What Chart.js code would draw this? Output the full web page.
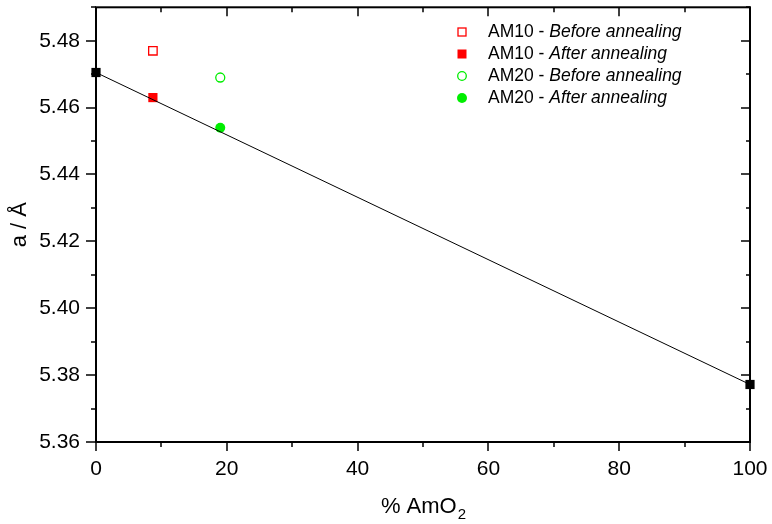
<!DOCTYPE html>
<html>
<head>
<meta charset="utf-8">
<script src="https://cdn.jsdelivr.net/npm/chart.js@4/dist/chart.umd.min.js"></script>
<style>
html,body{margin:0;padding:0;background:#fff;}
canvas{display:block;}
</style>
</head>
<body>
<canvas id="c" width="772" height="524"></canvas>
<script>
// ---- data ----
const refX = [0, 100];
const refY = [5.4705, 5.3772];
const am10Before = [{x: 8.7, y: 5.477}];
const am10After = [{x: 8.7, y: 5.463}];
const am20Before = [{x: 19.0, y: 5.469}];
const am20After = [{x: 19.0, y: 5.454}];
const legendSamples = ['AM10', 'AM10', 'AM20', 'AM20'];
const legendStates = ['Before annealing', 'After annealing', 'Before annealing', 'After annealing'];
const xTitle = '% AmO';
const xTitleSub = '2';
const yTitle = 'a / \u00C5';

const FONT = '"Liberation Sans", Arial, Helvetica, sans-serif';
const RED = '#ff0000';
const GREEN = '#00ee00';

const refPoints = refX.map((x, i) => ({x: x, y: refY[i]}));

const frame = {
  id: 'frame',
  afterDraw(chart) {
    const ctx = chart.ctx;
    const a = chart.chartArea;
    const xs = chart.scales.x, ys = chart.scales.y;
    ctx.save();
    ctx.strokeStyle = '#000';
    ctx.lineWidth = 2;
    ctx.strokeRect(a.left, a.top, a.right - a.left, a.bottom - a.top);
    ctx.lineWidth = 1.5;
    ctx.beginPath();
    xs.ticks.forEach(t => {
      const px = Math.round(xs.getPixelForValue(t.value)) ;
      const major = Math.round(t.value) % 20 === 0;
      const L = major ? 9 : 5;
      ctx.moveTo(px, a.bottom); ctx.lineTo(px, a.bottom + L);
      ctx.moveTo(px, a.top); ctx.lineTo(px, a.top + L);
    });
    ys.ticks.forEach(t => {
      const py = Math.round(ys.getPixelForValue(t.value));
      const major = Math.round(t.value * 100) % 2 === 0;
      const L = major ? 10 : 5;
      ctx.moveTo(a.left - L, py); ctx.lineTo(a.left, py);
      ctx.moveTo(a.right - L + 1, py); ctx.lineTo(a.right, py);
    });
    ctx.stroke();

    // axis titles
    ctx.fillStyle = '#000';
    ctx.font = '22px ' + FONT;
    ctx.textBaseline = 'alphabetic';
    const w1 = ctx.measureText(xTitle).width;
    ctx.font = '15px ' + FONT;
    const w2 = ctx.measureText(xTitleSub).width;
    const cx = (a.left + a.right) / 2;
    let sx = cx - (w1 + w2) / 2;
    ctx.font = '22px ' + FONT;
    ctx.textAlign = 'left';
    ctx.fillText(xTitle, sx, 513);
    ctx.font = '15px ' + FONT;
    ctx.fillText(xTitleSub, sx + w1 + 1, 519);

    ctx.save();
    ctx.translate(26, (a.top + a.bottom) / 2);
    ctx.rotate(-Math.PI / 2);
    ctx.font = '22px ' + FONT;
    ctx.textAlign = 'center';
    ctx.fillText(yTitle, 0, 0);
    ctx.restore();

    // legend
    const rows = [32, 54, 76, 98];
    const mx = 462, tx = 488;
    rows.forEach((ry, i) => {
      ctx.lineWidth = 1.3;
      if (i === 0) { ctx.strokeStyle = RED; ctx.strokeRect(mx - 4, ry - 4, 8, 8); }
      if (i === 1) { ctx.fillStyle = RED; ctx.fillRect(mx - 4.5, ry - 4.5, 9, 9); }
      if (i === 2) { ctx.strokeStyle = GREEN; ctx.beginPath(); ctx.arc(mx, ry, 4.3, 0, Math.PI * 2); ctx.stroke(); }
      if (i === 3) { ctx.fillStyle = GREEN; ctx.beginPath(); ctx.arc(mx, ry, 5, 0, Math.PI * 2); ctx.fill(); }
      ctx.fillStyle = '#000';
      ctx.textAlign = 'left';
      ctx.textBaseline = 'middle';
      ctx.font = '17.5px ' + FONT;
      const p1 = legendSamples[i] + ' - ';
      ctx.fillText(p1, tx, ry);
      const pw = ctx.measureText(p1).width;
      ctx.font = 'italic 17.5px ' + FONT;
      ctx.fillText(legendStates[i], tx + pw, ry);
    });
    ctx.restore();
  }
};

new Chart(document.getElementById('c'), {
  type: 'scatter',
  data: {
    datasets: [
      {data: refPoints, showLine: true, borderColor: '#000', borderWidth: 1, pointStyle: 'rect', pointRadius: 6.5, pointBackgroundColor: '#000', pointBorderColor: '#000', pointBorderWidth: 0, clip: false},
      {data: am10Before, pointStyle: 'rect', pointRadius: 6, pointBackgroundColor: 'rgba(0,0,0,0)', pointBorderColor: RED, pointBorderWidth: 1.3, clip: false},
      {data: am10After, pointStyle: 'rect', pointRadius: 6.5, pointBackgroundColor: RED, pointBorderColor: RED, pointBorderWidth: 0, clip: false},
      {data: am20Before, pointStyle: 'circle', pointRadius: 4.5, pointBackgroundColor: 'rgba(0,0,0,0)', pointBorderColor: GREEN, pointBorderWidth: 1.3, clip: false},
      {data: am20After, pointStyle: 'circle', pointRadius: 5, pointBackgroundColor: GREEN, pointBorderColor: GREEN, pointBorderWidth: 0, clip: false}
    ]
  },
  options: {
    responsive: false,
    animation: false,
    devicePixelRatio: 1,
    layout: {padding: {top: 5, right: 22, left: 0, bottom: 0}},
    plugins: {legend: {display: false}, tooltip: {enabled: false}},
    scales: {
      x: {
        type: 'linear', min: 0, max: 100,
        grid: {display: false, drawTicks: false}, border: {display: false},
        ticks: {stepSize: 10, autoSkip: false, maxRotation: 0, padding: 15, color: '#000', font: {family: FONT, size: 21},
          callback: v => (Math.round(v) % 20 === 0 ? String(Math.round(v)) : '')},
        afterFit: s => { s.height = 82; s.paddingLeft = 0; s.paddingRight = 0; }
      },
      y: {
        type: 'linear', min: 5.36, max: 5.49,
        grid: {display: false, drawTicks: false}, border: {display: false},
        ticks: {stepSize: 0.01, autoSkip: false, padding: 16, color: '#000', font: {family: FONT, size: 21},
          callback: v => { const k = Math.round(v * 100); return k % 2 === 0 ? (k / 100).toFixed(2) : ''; }},
        afterFit: s => { s.width = 96; s.paddingTop = 0; s.paddingBottom = 0; }
      }
    }
  },
  plugins: [frame]
});
</script>
</body>
</html>
